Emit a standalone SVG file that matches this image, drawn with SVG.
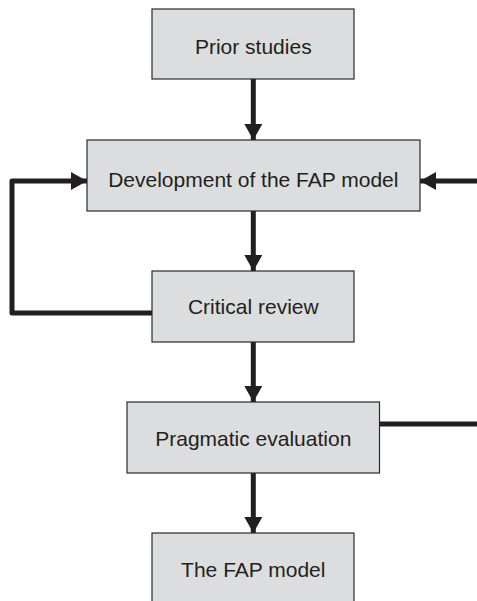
<svg xmlns="http://www.w3.org/2000/svg" width="477" height="601" viewBox="0 0 477 601">
<style>
.box{fill:#dcddde;stroke:#2a2a2a;stroke-width:1.2}
.lbl{font-family:"Liberation Sans",Arial,sans-serif;font-size:21px;fill:#231f20;text-anchor:middle}
.con{fill:none;stroke:#231f20;stroke-width:5;stroke-linejoin:round}
</style>
<defs>
<marker id="ah" viewBox="0 0 16 18" refX="16" refY="9" markerWidth="16" markerHeight="18" markerUnits="userSpaceOnUse" orient="auto">
<path d="M0,0 L16,9 L0,18 Z" fill="#231f20"/>
</marker>
</defs>
<g id="connectors">
<line class="con" x1="253.3" y1="79" x2="253.3" y2="140" marker-end="url(#ah)"/>
<line class="con" x1="253.3" y1="211" x2="253.3" y2="271" marker-end="url(#ah)"/>
<line class="con" x1="253.3" y1="342" x2="253.3" y2="402" marker-end="url(#ah)"/>
<line class="con" x1="253.3" y1="473" x2="253.3" y2="533" marker-end="url(#ah)"/>
<polyline class="con" points="152,313 12,313 12,181 87,181" marker-end="url(#ah)"/>
<line class="con" x1="480" y1="181" x2="420" y2="181" marker-end="url(#ah)"/>
<line class="con" x1="380" y1="424" x2="480" y2="424"/>
</g>
<g id="prior-studies">
<rect class="box" x="152" y="9" width="202" height="70"/>
<text class="lbl" x="253.3" y="53.5">Prior studies</text>
</g>
<g id="development">
<rect class="box" x="87" y="140" width="333" height="71"/>
<text class="lbl" x="253.3" y="186.5">Development of the FAP model</text>
</g>
<g id="critical-review">
<rect class="box" x="152" y="271" width="202" height="71"/>
<text class="lbl" x="253.3" y="314">Critical review</text>
</g>
<g id="pragmatic-evaluation">
<rect class="box" x="127" y="402" width="252.5" height="71"/>
<text class="lbl" x="253.3" y="446">Pragmatic evaluation</text>
</g>
<g id="fap-model">
<rect class="box" x="152" y="533" width="202" height="80"/>
<text class="lbl" x="253.3" y="576.5">The FAP model</text>
</g>
</svg>
